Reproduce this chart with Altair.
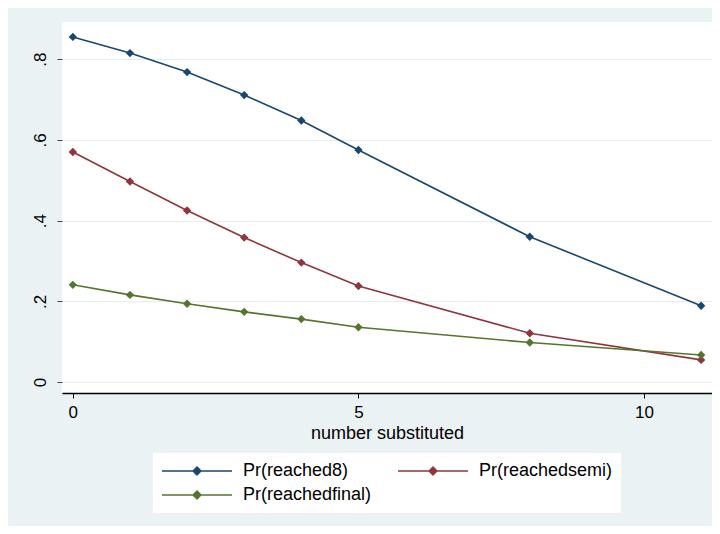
import altair as alt
import pandas as pd

x_vals = [0, 1, 2, 3, 4, 5, 8, 11]
reached8 = [0.855, 0.815, 0.768, 0.711, 0.648, 0.575, 0.360, 0.189]
reachedsemi = [0.570, 0.497, 0.425, 0.358, 0.296, 0.238, 0.121, 0.055]
reachedfinal = [0.241, 0.216, 0.194, 0.174, 0.156, 0.136, 0.098, 0.067]

series_names = ["Pr(reached8)", "Pr(reachedsemi)", "Pr(reachedfinal)"]
series_colors = ["#1A476F", "#90353B", "#55752F"]

rows = []
for i, (name, vals) in enumerate(zip(series_names, [reached8, reachedsemi, reachedfinal])):
    for xv, yv in zip(x_vals, vals):
        rows.append({"x": xv, "y": yv, "series": name, "order": i})
df = pd.DataFrame(rows)

FONT = "Liberation Sans"

color = alt.Color(
    "series:N",
    sort=series_names,
    scale=alt.Scale(domain=series_names, range=series_colors),
    legend=alt.Legend(
        title=None,
        values=series_names,
        orient="none",
        direction="horizontal",
        legendX=91,
        legendY=431,
        columns=2,
        columnPadding=25,
        rowPadding=4,
        padding=8,
        fillColor="white",
        symbolType="M-1,0L1,0M0,-0.11L0.11,0L0,0.11L-0.11,0Z",
        symbolSize=4900,
        symbolStrokeWidth=1.6,
        symbolOffset=0,
        clipHeight=20,
        labelOffset=10,
        labelFont=FONT,
        labelFontSize=18,
        labelColor="#000000",
        labelLimit=300,
    ),
)

xenc = alt.X(
    "x:Q",
    scale=alt.Scale(domain=[-0.19, 11.19], nice=False, zero=False),
    axis=alt.Axis(
        title="number substituted",
        values=[0, 5, 10],
        format="d",
        grid=False,
        domain=True,
        domainColor="#000000",
        domainWidth=1.5,
        tickColor="#000000",
        tickSize=5,
        labelPadding=6,
        labelFont=FONT,
        labelFontSize=17,
        labelColor="#000000",
        titleFont=FONT,
        titleFontSize=18,
        titleFontWeight="normal",
        titleColor="#000000",
        titlePadding=4,
    ),
)

yenc = alt.Y(
    "y:Q",
    scale=alt.Scale(domain=[-0.027, 0.892], nice=False, zero=False),
    axis=alt.Axis(
        title=None,
        values=[0, 0.2, 0.4, 0.6, 0.8],
        labelExpr="datum.value == 0 ? '0' : replace(format(datum.value, '.1f'), '0.', '.')",
        grid=True,
        gridColor="#E6EEF0",
        gridWidth=1,
        domain=False,
        tickColor="#444444",
        tickSize=5,
        labelAngle=270,
        labelPadding=8,
        labelFont=FONT,
        labelFontSize=17,
        labelColor="#000000",
    ),
)

base = alt.Chart(df)
lines = base.mark_line(strokeWidth=1.6).encode(x=xenc, y=yenc, color=color, order="order:Q")
points = base.mark_point(shape="diamond", size=70, filled=True, opacity=1).encode(
    x=xenc, y=yenc, color=color
)

chart = (
    alt.layer(lines, points)
    .properties(
        width=650,
        height=371,
        autosize=alt.AutoSizeParams(type="none"),
        padding={"left": 54, "top": 14, "right": 0, "bottom": 133},
        background="#EAF2F3",
    )
    .configure_view(fill="white", stroke=None)
)

chart.save("out.html", embed_options={"renderer": "svg", "actions": False})
